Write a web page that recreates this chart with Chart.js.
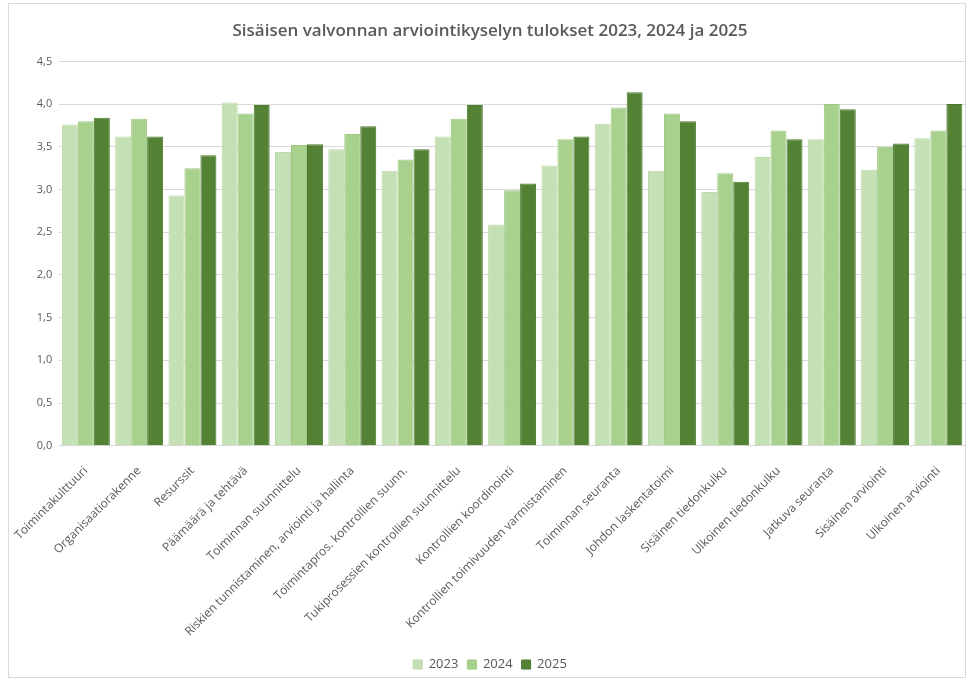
<!DOCTYPE html>
<html>
<head>
<meta charset="utf-8">
<script src="https://cdn.jsdelivr.net/npm/chart.js@4"></script>
<style>
  body { margin: 0; background: #fff; }
  #frame {
    position: absolute; left: 8px; top: 3px;
    width: 958px; height: 675px;
    border: 1px solid #d9d9d9; box-sizing: border-box;
  }
</style>
</head>
<body>
<div id="frame"><canvas id="chart"></canvas></div>
<script>
// Chart data
const categories = [
  "Toimintakulttuuri",
  "Organisaatiorakenne",
  "Resurssit",
  "Päämäärä ja tehtävä",
  "Toiminnan suunnittelu",
  "Riskien tunnistaminen, arviointi ja hallinta",
  "Toimintapros. kontrollien suunn.",
  "Tukiprosessien kontrollien suunnittelu",
  "Kontrollien koordinointi",
  "Kontrollien toimivuuden varmistaminen",
  "Toiminnan seuranta",
  "Johdon laskentatoimi",
  "Sisäinen tiedonkulku",
  "Ulkoinen tiedonkulku",
  "Jatkuva seuranta",
  "Sisäinen arviointi",
  "Ulkoinen arviointi",
];
const values2023 = [3.76, 3.62, 2.93, 4.02, 3.44, 3.47, 3.22, 3.62, 2.59, 3.28, 3.77, 3.22, 2.97, 3.38, 3.59, 3.23, 3.60];
const values2024 = [3.80, 3.83, 3.25, 3.89, 3.52, 3.65, 3.35, 3.83, 2.99, 3.59, 3.96, 3.89, 3.19, 3.69, 4.00, 3.50, 3.69];
const values2025 = [3.84, 3.62, 3.40, 3.99, 3.53, 3.74, 3.47, 3.99, 3.07, 3.62, 4.14, 3.80, 3.09, 3.59, 3.94, 3.54, 4.00];
const yTicks = [0, 0.5, 1, 1.5, 2, 2.5, 3, 3.5, 4, 4.5];

const fontFamily = "'Open Sans', 'Noto Sans', sans-serif";
const textColor = "#595959";

function makeSet(label, data, fill, edge) {
  return {
    label,
    data,
    backgroundColor: fill,
    borderColor: edge,
    borderWidth: 1,
    categoryPercentage: 0.9,
    barPercentage: 1.0,
  };
}

const ctx = document.getElementById("chart").getContext("2d");
new Chart(ctx, {
  type: "bar",
  data: {
    labels: categories,
    datasets: [
      makeSet("2023", values2023, "#c5e0b4", "#bcd9a9"),
      makeSet("2024", values2024, "#a9d18e", "#9fc983"),
      makeSet("2025", values2025, "#548235", "#4b7a2e"),
    ],
  },
  options: {
    responsive: true,
    maintainAspectRatio: false,
    animation: false,
    layout: { padding: { left: 6, right: 0, top: 4, bottom: -4 } },
    plugins: {
      title: {
        display: true,
        text: "Sisäisen valvonnan arviointikyselyn tulokset 2023, 2024 ja 2025",
        color: textColor,
        font: { family: fontFamily, size: 17, weight: "600" },
        padding: { top: 13, bottom: 20 },
      },
      legend: {
        position: "bottom",
        labels: {
          color: textColor,
          font: { family: fontFamily, size: 13 },
          boxWidth: 9,
          boxHeight: 9,
          padding: 9,
        },
      },
      tooltip: { enabled: false },
    },
    scales: {
      x: {
        grid: { display: false },
        border: { color: "#d9d9d9" },
        // the first rotated label may hang a little further left
        afterFit: (scale) => {
          scale.paddingLeft = Math.max(0, scale.paddingLeft - 3);
        },
        ticks: {
          color: textColor,
          font: { family: fontFamily, size: 12 },
          maxRotation: 45,
          minRotation: 45,
          autoSkip: false,
          padding: 10,
        },
      },
      y: {
        min: 0,
        max: 4.5,
        afterBuildTicks: (axis) => {
          axis.ticks = yTicks.map((v) => ({ value: v }));
        },
        grid: { color: "#d9d9d9", drawTicks: false },
        border: { display: false },
        ticks: {
          color: textColor,
          font: { family: fontFamily, size: 11 },
          padding: 7,
          callback: (v) => Number(v).toFixed(1).replace(".", ","),
        },
      },
    },
  },
});
</script>
</body>
</html>
